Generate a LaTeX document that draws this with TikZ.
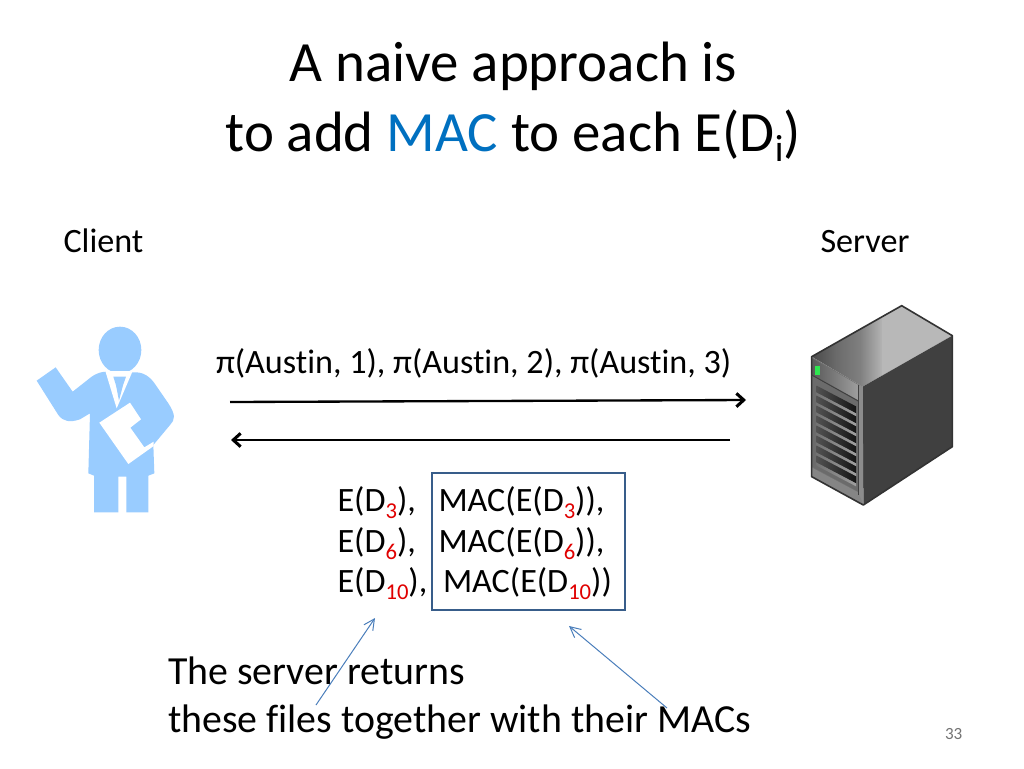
\documentclass[tikz,border=0pt]{standalone}
\usepackage{fontspec}
\setmainfont[Ligatures=NoCommon]{Carlito}
\usetikzlibrary{arrows.meta}
\definecolor{macblue}{HTML}{0070C0}
\definecolor{subred}{HTML}{E00000}
\definecolor{personblue}{HTML}{99CCFF}
\definecolor{linkblue}{HTML}{4A7EBB}
\definecolor{boxblue}{HTML}{385D8A}
\definecolor{ledgreen}{HTML}{2EE650}
\newcommand{\bsub}[1]{\raisebox{-0.23em}{\fontsize{17}{17}\selectfont\textcolor{subred}{#1}}}
\tikzset{
  lbl/.style={anchor=base west,inner sep=0pt,outer sep=0pt,text=black},
  titletext/.style={lbl,font=\fontsize{42.67}{42.67}\selectfont},
  bodytext/.style={lbl,font=\fontsize{25.6}{25.6}\selectfont},
  bigtext/.style={lbl,font=\fontsize{29.87}{29.87}\selectfont},
  flow/.style={draw=black,line width=1.75pt,-{Straight Barb[length=5.5pt,width=10pt,line width=2.3pt]}},
  pointer/.style={draw=linkblue,line width=0.75pt,-{Straight Barb[length=8pt,width=8pt,line width=.75pt]}}
}
\begin{document}
\begin{tikzpicture}[x=.75pt,y=-.75pt]
\useasboundingbox (0,0) rectangle (1024,768);
\fill[white] (0,0) rectangle (1024,768);
% title
\node[titletext] (t1) at (289.5,81) {A naive approach is};
\node[titletext] (t2) at (225.5,151) {to add \textcolor{macblue}{MAC} to each E(D\raisebox{-0.18em}{\fontsize{28.4}{28.4}\selectfont i})};
\node[bodytext] (client) at (63.5,252) {Client};
\node[bodytext] (server) at (820.5,252) {Server};
\node[bodytext] (query) at (216,373) {π(Austin, 1), π(Austin, 2), π(Austin, 3)};
% person
\begin{scope}[shift={(20,310)},x=.25pt,y=-.25pt]
\fill[personblue] (300,120) ellipse [x radius=64,y radius=70];
\fill[personblue] (50,212) -- (107,172) -- (158,245) -- (215,200)
  .. controls (235,187) and (245,186) .. (258,185) -- (340,187)
  .. controls (370,185) and (390,200) .. (405,222) -- (445,280)
  .. controls (468,315) and (465,330) .. (450,345) -- (400,405) -- (403,490) -- (385,497)
  -- (385,607) -- (319,607) -- (319,500) -- (295,500) -- (295,607) -- (222,607)
  -- (222,497) -- (205,490) -- (210,310) -- (180,328)
  .. controls (150,338) and (130,335) .. (115,315) -- cycle;
\fill[white] (256,183) -- (290,295) -- (338,183) -- cycle;
\fill[personblue] (280,200) -- (318,200) -- (309,226) -- (297,272) -- (288,226) -- cycle;
\fill[white] (238,338) -- (330,278) -- (363,328) -- (331,353) -- (373,412) -- (401,395) -- (401,408) -- (325,462) -- cycle;
\end{scope}
% server
\begin{scope}[shift={(790,295)},x=.25pt,y=-.25pt]
\begin{scope}
\clip (65,185) -- (335,32) -- (487,122) -- (218,275) -- cycle;
\shade[left color=black!72,right color=black!58] (60,20) rectangle (140,290);
\shade[left color=black!58,right color=black!50] (140,20) rectangle (210,290);
\shade[left color=black!50,right color=black!30] (210,20) rectangle (275,290);
\fill[black!28] (275,20) rectangle (490,290);
\end{scope}
\fill[black!75] (218,275) -- (487,122) -- (487,455) -- (220,630) -- cycle;
\fill[black!55] (65,185) -- (218,275) -- (220,630) -- (65,545) -- cycle;
\shade[left color=black!65,right color=black!38] (66,190) -- (205,270) -- (205,318) -- (66,240) -- cycle;
\fill[black!45] (205,270) -- (218,275) -- (220,630) -- (205,600) -- cycle;
\fill[black!58] (66,245) -- (205,318) -- (205,590) -- (66,515) -- cycle;
\foreach \i in {0,...,7}{
  \shade[left color=black!68,right color=black!92]
    (80,{272+\i*30}) -- (198,{334+\i*30}) -- (198,{355+\i*30}) -- (80,{293+\i*30}) -- cycle;
  \shade[left color=black!55,right color=black!38] (80,{293+\i*30}) -- (198,{355+\i*30}) -- (198,{364+\i*30}) -- (80,{302+\i*30}) -- cycle;
}
\fill[black!48] (66,518) -- (205,592) -- (220,630) -- (65,545) -- cycle;
\fill[ledgreen] (75,213) rectangle (91,239);
\draw[black!80,line width=1.2pt,line join=round] (65,185) -- (335,32) -- (487,122) -- (487,455) -- (220,630) -- (65,545) -- cycle;
\draw[black!75,line width=.8pt] (205,270) -- (205,600);
\draw[black!75,line width=.8pt] (65,240) -- (205,318);
\end{scope}
% flows
\coordinate (f1s) at (230,402);
\coordinate (f1e) at (746,400);
\coordinate (f2s) at (730,440);
\coordinate (f2e) at (231,440);
\draw[flow] (f1s) -- (f1e);
\draw[flow] (f2s) -- (f2e);
% response
\node[bodytext] (e3) at (337.5,511) {E(D\bsub{3}),};
\node[bodytext] (e6) at (337.5,552) {E(D\bsub{6}),};
\node[bodytext] (e10) at (337.5,592) {E(D\bsub{10}),};
\node[bodytext] (m3) at (438.5,511) {MAC(E(D\bsub{3})),};
\node[bodytext] (m6) at (438.5,552) {MAC(E(D\bsub{6})),};
\node[bodytext] (m10) at (443,592) {MAC(E(D\bsub{10}))};
\coordinate (boxa) at (432,473);
\coordinate (boxb) at (625,610);
\draw[boxblue,line width=1.6pt] (boxa) rectangle (boxb);
% bottom text
\node[bigtext] (b1) at (168,684) {The server returns};
\node[bigtext] (b2) at (168,732) {these files together with their MACs};
\coordinate (p1s) at (316,705);
\coordinate (p1e) at (375,618);
\coordinate (p2s) at (667,708);
\coordinate (p2e) at (569,626);
\draw[pointer] (p1s) -- (p1e);
\draw[pointer] (p2s) -- (p2e);
\node[lbl,text=black!55,font=\fontsize{12.8}{12.8}\selectfont] (page) at (945,739) {33};
\end{tikzpicture}
\end{document}
